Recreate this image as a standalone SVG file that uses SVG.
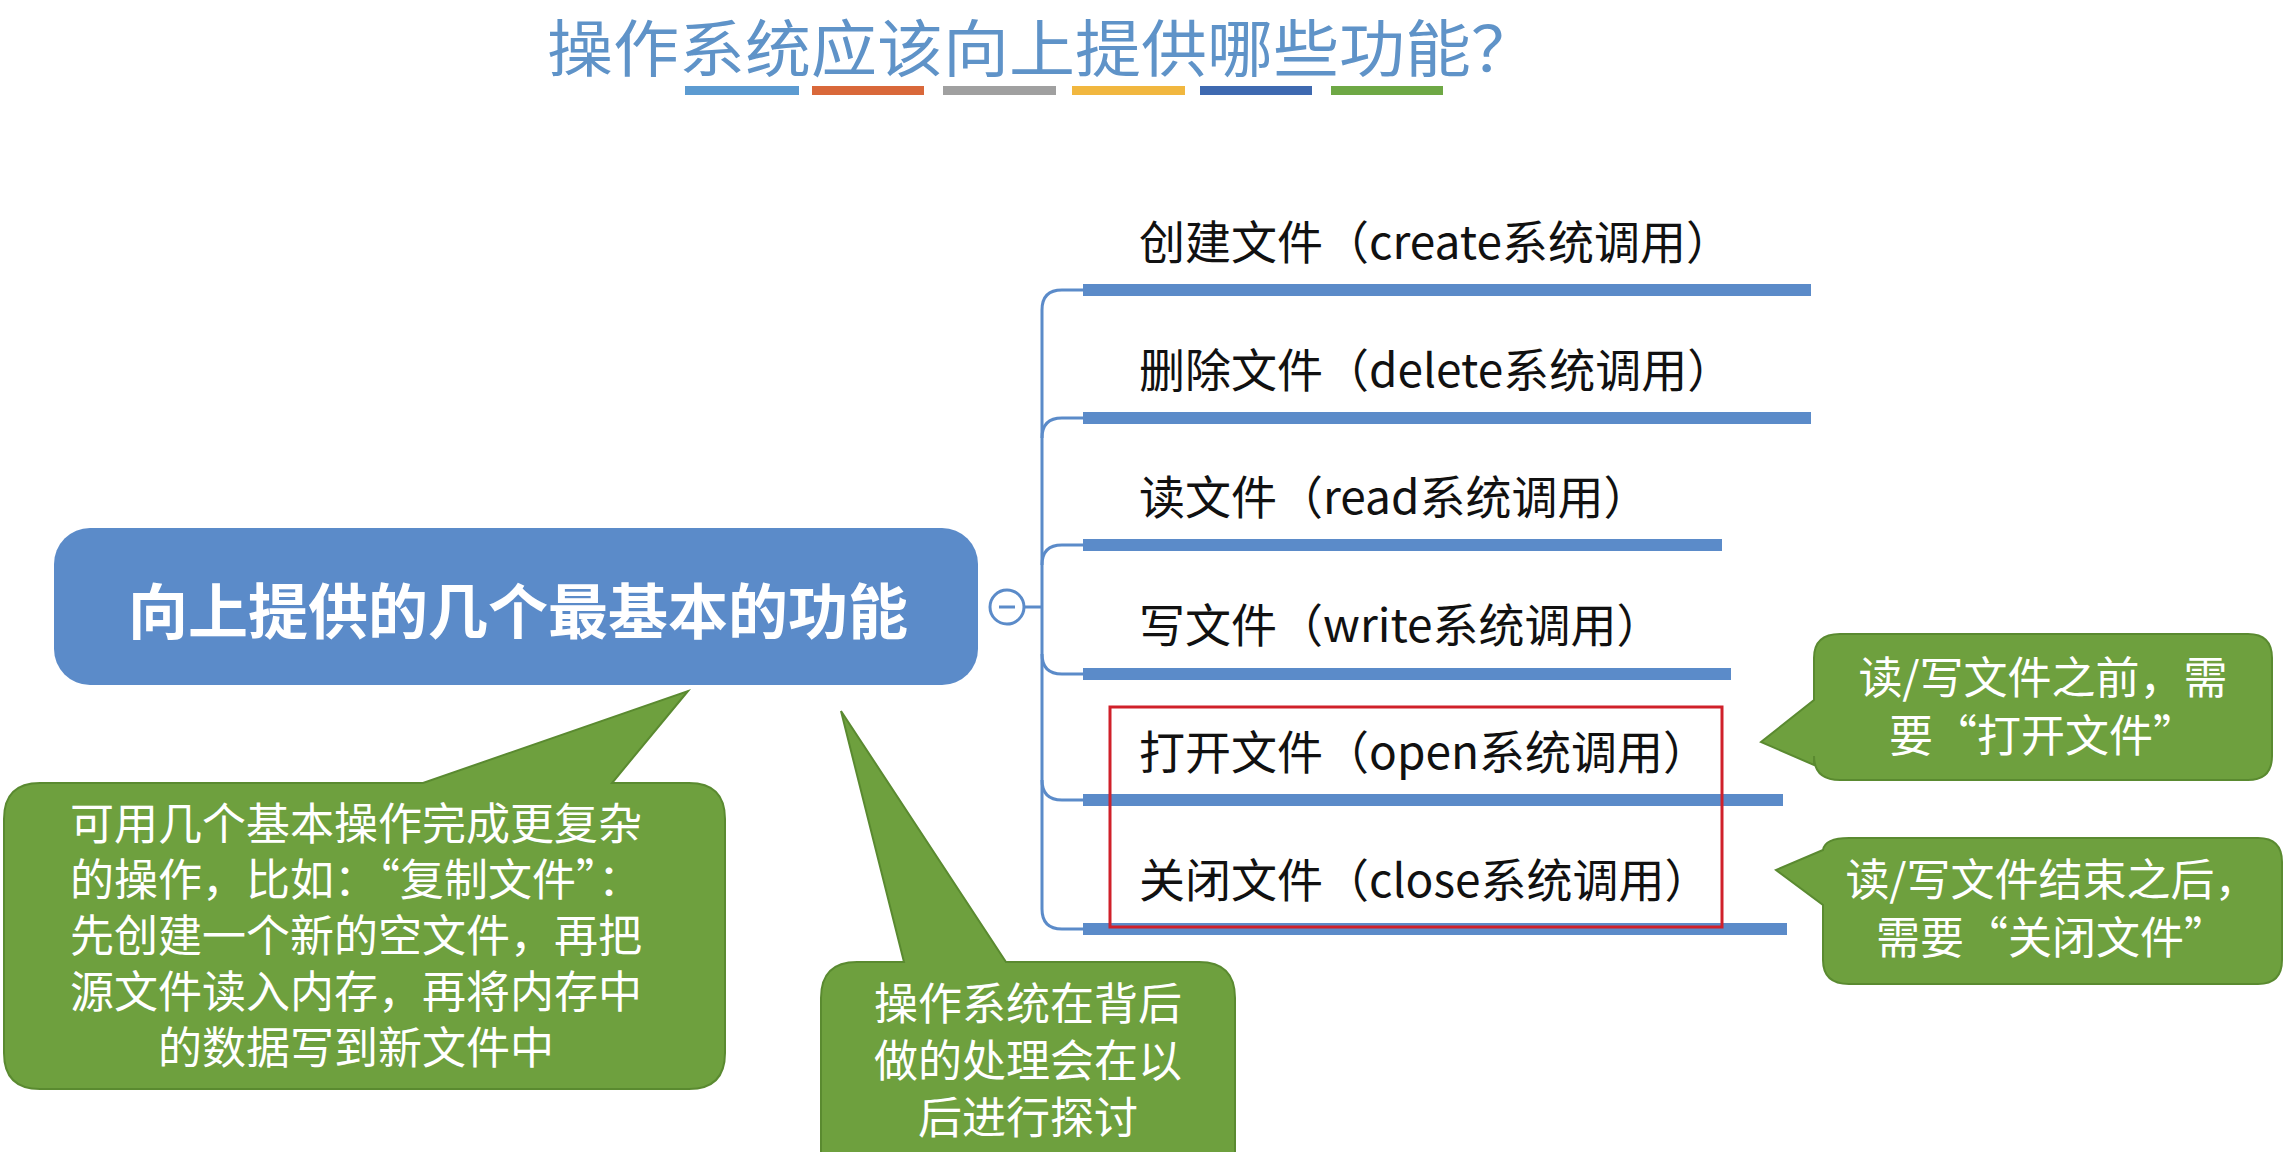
<svg xmlns="http://www.w3.org/2000/svg" width="2286" height="1152" viewBox="0 0 2286 1152">
<style>
text{font-family:"Noto Sans CJK SC","Liberation Sans",sans-serif}
.item{font-size:46px;fill:#111}
.bar{fill:#5b8bc9}
.call{fill:#6ea03e;stroke:#5a8a30;stroke-width:2}
.ct{font-size:44px;fill:#fff;text-anchor:middle}
.conn{fill:none;stroke:#5b8bc9;stroke-width:3}
</style>
<rect width="2286" height="1152" fill="#fff"/>
<g id="title">
<text x="1042" y="72" font-size="62" fill="#5f93c8" text-anchor="middle" textLength="990" lengthAdjust="spacingAndGlyphs">操作系统应该向上提供哪些功能？</text>
<rect x="685" y="86" width="114" height="9" fill="#5c9bd1"/>
<rect x="812" y="86" width="112" height="9" fill="#d9683a"/>
<rect x="943" y="86" width="113" height="9" fill="#a0a0a0"/>
<rect x="1072" y="86" width="113" height="9" fill="#f1b73f"/>
<rect x="1200" y="86" width="112" height="9" fill="#3e69b0"/>
<rect x="1331" y="86" width="112" height="9" fill="#6ea845"/>
</g>
<g id="connectors">
<path class="conn" d="M1024 607 H1042"/>
<path class="conn" d="M1083 290 H1062 Q1042 290 1042 310 V909 Q1042 929 1062 929 H1083"/>
<path class="conn" d="M1042 438 Q1042 418 1062 418 H1083"/>
<path class="conn" d="M1042 565 Q1042 545 1062 545 H1083"/>
<path class="conn" d="M1042 654 Q1042 674 1062 674 H1083"/>
<path class="conn" d="M1042 780 Q1042 800 1062 800 H1083"/>
</g>
<g id="root">
<rect x="54" y="528" width="924" height="157" rx="36" fill="#5b8bc9"/>
<text x="518" y="634" font-size="60" font-weight="bold" fill="#fff" text-anchor="middle">向上提供的几个最基本的功能</text>
<circle cx="1007" cy="607" r="17" fill="#fff" stroke="#5b8bc9" stroke-width="3"/>
<path d="M999 607 H1015" stroke="#5b8bc9" stroke-width="3"/>
</g>
<g id="n-create"><rect class="bar" x="1083" y="284" width="728" height="12"/><text class="item" x="1139" y="259">创建文件（create系统调用）</text></g>
<g id="n-delete"><rect class="bar" x="1083" y="412" width="728" height="12"/><text class="item" x="1139" y="387">删除文件（delete系统调用）</text></g>
<g id="n-read"><rect class="bar" x="1083" y="539" width="639" height="12"/><text class="item" x="1139" y="514">读文件（read系统调用）</text></g>
<g id="n-write"><rect class="bar" x="1083" y="668" width="648" height="12"/><text class="item" x="1139" y="642">写文件（write系统调用）</text></g>
<g id="n-open"><rect class="bar" x="1083" y="794" width="700" height="12"/><text class="item" x="1139" y="769">打开文件（open系统调用）</text></g>
<g id="n-close"><rect class="bar" x="1083" y="923" width="704" height="12"/><text class="item" x="1139" y="897">关闭文件（close系统调用）</text></g>
<g id="highlight"><rect x="1110" y="707" width="612" height="220" fill="none" stroke="#d0202a" stroke-width="3"/></g>
<g id="c-open">
<path class="call" d="M1840 634 H2248 Q2272 634 2272 658 V756 Q2272 780 2248 780 H1840 Q1814 780 1814 756 V765 L1761 742 L1814 700 V658 Q1814 634 1840 634 Z"/>
<text class="ct" x="2043" y="694">读/写文件之前，需</text>
<text class="ct" x="2043" y="752">要“打开文件”</text>
</g>
<g id="c-close">
<path class="call" d="M1849 838 H2258 Q2282 838 2282 862 V960 Q2282 984 2258 984 H1849 Q1823 984 1823 960 V905 L1776 870 L1823 850 Q1825 838 1849 838 Z"/>
<text class="ct" x="2052" y="896">读/写文件结束之后，</text>
<text class="ct" x="2052" y="954">需要“关闭文件”</text>
</g>
<g id="c-copy">
<path class="call" d="M40 783 H423 L688 691 L612 783 H689 Q725 783 725 819 V1053 Q725 1089 689 1089 H40 Q4 1089 4 1053 V819 Q4 783 40 783 Z"/>
<text class="ct" x="356" y="840">可用几个基本操作完成更复杂</text>
<text class="ct" x="356" y="896">的操作，比如：“复制文件”：</text>
<text class="ct" x="356" y="952">先创建一个新的空文件，再把</text>
<text class="ct" x="356" y="1008">源文件读入内存，再将内存中</text>
<text class="ct" x="356" y="1064">的数据写到新文件中</text>
</g>
<g id="c-os">
<path class="call" d="M857 962 H904 L841 711 L1006 962 H1199 Q1235 962 1235 998 V1160 H821 V998 Q821 962 857 962 Z"/>
<text class="ct" x="1028" y="1020">操作系统在背后</text>
<text class="ct" x="1028" y="1077">做的处理会在以</text>
<text class="ct" x="1028" y="1134">后进行探讨</text>
</g>
</svg>
